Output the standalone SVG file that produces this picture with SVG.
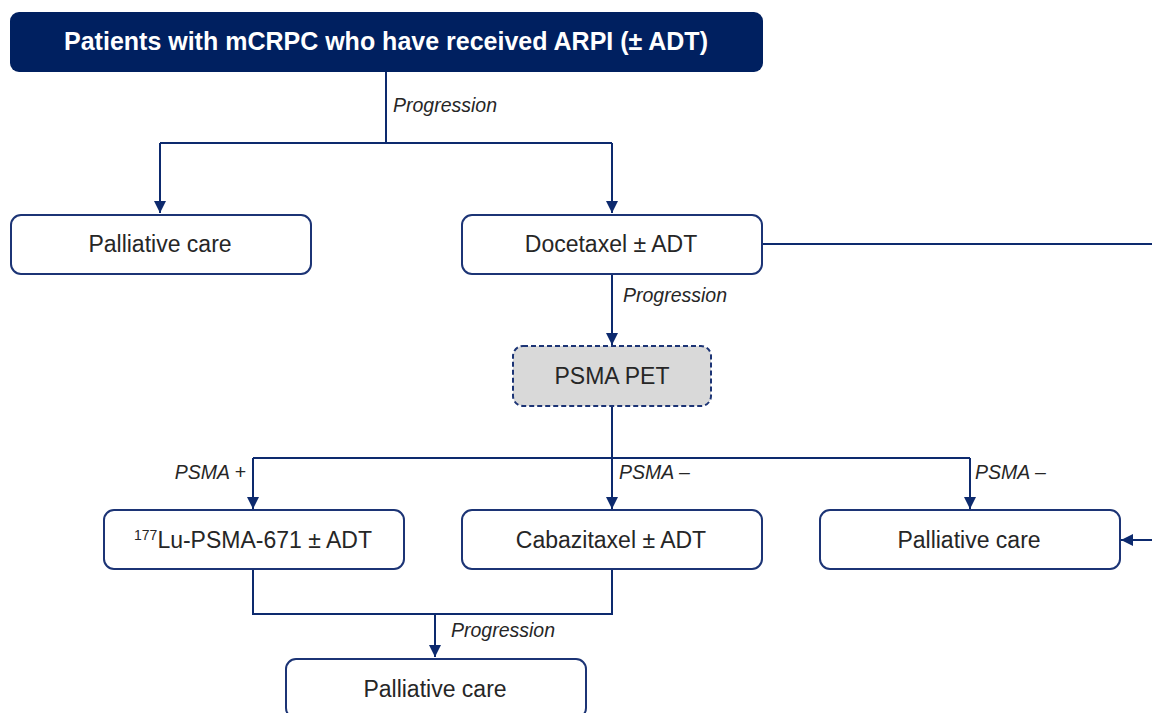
<svg xmlns="http://www.w3.org/2000/svg" width="1152" height="713" viewBox="0 0 1152 713">
<style>
.box{fill:#fff;stroke:#1c3475;stroke-width:2}
.dash{fill:#d9d9d9;stroke:#1c3475;stroke-width:2;stroke-dasharray:5 3}
.t{font-family:"Liberation Sans",Arial,sans-serif;font-size:23px;fill:#262626;text-anchor:middle}
.lbl{font-family:"Liberation Sans",Arial,sans-serif;font-size:19.5px;font-style:italic;fill:#262626}
.con{fill:none;stroke:#0d2a6e;stroke-width:2}
</style>
<defs>
<marker id="ah" markerWidth="12" markerHeight="12" viewBox="0 0 12 12" refX="12" refY="6" orient="auto" markerUnits="userSpaceOnUse">
<path d="M0,0 L12,6 L0,12 Z" fill="#0d2a6e"/>
</marker>
</defs>
<rect width="1152" height="713" fill="#fff"/>
<g id="connectors">
<path class="con" d="M386,72 V143"/>
<path class="con" d="M160,143 H612"/>
<path class="con" d="M160,143 V213" marker-end="url(#ah)"/>
<path class="con" d="M612,143 V213" marker-end="url(#ah)"/>
<path class="con" d="M762,244 H1160 V540 H1121" marker-end="url(#ah)"/>
<path class="con" d="M612,274 V345" marker-end="url(#ah)"/>
<path class="con" d="M612,406 V458"/>
<path class="con" d="M253,458 H970"/>
<path class="con" d="M253,458 V509" marker-end="url(#ah)"/>
<path class="con" d="M612,458 V509" marker-end="url(#ah)"/>
<path class="con" d="M970,458 V509" marker-end="url(#ah)"/>
<path class="con" d="M253,569 V614 H612 V569"/>
<path class="con" d="M435,614 V657" marker-end="url(#ah)"/>
<text class="lbl" x="393" y="112">Progression</text>
<text class="lbl" x="623" y="302">Progression</text>
<text class="lbl" x="246" y="479" text-anchor="end">PSMA +</text>
<text class="lbl" x="619" y="479">PSMA –</text>
<text class="lbl" x="975" y="479">PSMA –</text>
<text class="lbl" x="451" y="637">Progression</text>
</g>
<g id="n-top">
<rect x="10" y="12" width="753" height="60" rx="9" fill="#002060"/>
<text x="386" y="50" text-anchor="middle" font-family="Liberation Sans,Arial,sans-serif" font-size="25" font-weight="bold" fill="#fff">Patients with mCRPC who have received ARPI (± ADT)</text>
</g>
<g id="n-pall1">
<rect class="box" x="11" y="215" width="300" height="59" rx="10"/>
<text class="t" x="160" y="252">Palliative care</text>
</g>
<g id="n-doce">
<rect class="box" x="462" y="215" width="300" height="59" rx="10"/>
<text class="t" x="611" y="252">Docetaxel ± ADT</text>
</g>
<g id="n-pet">
<rect class="dash" x="513" y="346" width="198" height="60" rx="10"/>
<text class="t" x="612" y="384">PSMA PET</text>
</g>
<g id="n-lu">
<rect class="box" x="104" y="510" width="300" height="59" rx="10"/>
<text class="t" x="253" y="548"><tspan font-size="14" dy="-8">177</tspan><tspan dy="8">Lu-PSMA-671 ± ADT</tspan></text>
</g>
<g id="n-caba">
<rect class="box" x="462" y="510" width="300" height="59" rx="10"/>
<text class="t" x="611" y="548">Cabazitaxel ± ADT</text>
</g>
<g id="n-pall2">
<rect class="box" x="820" y="510" width="300" height="59" rx="10"/>
<text class="t" x="969" y="548">Palliative care</text>
</g>
<g id="n-pall3">
<rect class="box" x="286" y="659" width="300" height="59" rx="10"/>
<text class="t" x="435" y="697">Palliative care</text>
</g>
</svg>
